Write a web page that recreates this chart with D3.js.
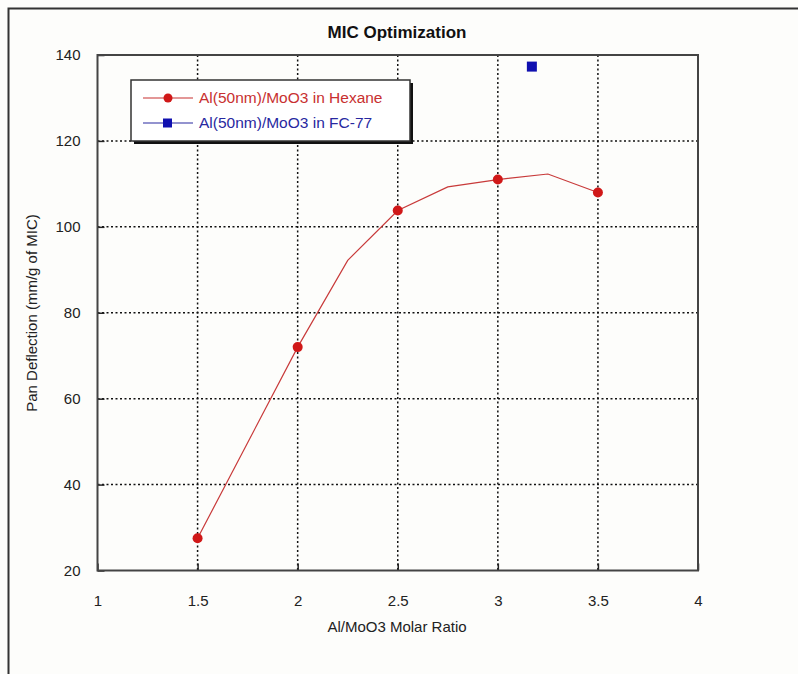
<!DOCTYPE html>
<html>
<head>
<meta charset="utf-8">
<script src="https://cdn.jsdelivr.net/npm/d3@7"></script>
<style>
  body { margin: 0; background: #fdfdfb; }
  text { font-family: "Liberation Sans", Arial, sans-serif; fill: #222; }
  .grid line { stroke: #111; stroke-dasharray: 2,2.5; stroke-width: 1.5; }
</style>
</head>
<body>
<div id="chart"></div>
<script>
// data
var hexX = [1.5, 2, 2.25, 2.5, 2.75, 3, 3.25, 3.5];
var hexY = [27.5, 72, 92.2, 103.8, 109.3, 111, 112.3, 108];
var hexMarked = [true, true, false, true, false, true, false, true];
var fcX = [3.17];
var fcY = [137.3];
var xTicks = [1, 1.5, 2, 2.5, 3, 3.5, 4];
var yTicks = [20, 40, 60, 80, 100, 120, 140];
var seriesNames = ["Al(50nm)/MoO3 in Hexane", "Al(50nm)/MoO3 in FC-77"];

var W = 798, H = 674;
var svg = d3.select("#chart").append("svg").attr("width", W).attr("height", H);

// outer frame (top + left edges only visible)
svg.append("path").attr("d", "M8.5," + H + " V8.5 H" + W)
  .attr("fill", "none").attr("stroke", "#333").attr("stroke-width", 2);

var x = d3.scaleLinear().domain([1, 4]).range([97.5, 698]);
var y = d3.scaleLinear().domain([20, 140]).range([570.5, 55]);

// grid
var grid = svg.append("g").attr("class", "grid");
grid.selectAll(".vx").data(xTicks.slice(1, -1)).enter().append("line")
  .attr("x1", d => x(d)).attr("x2", d => x(d)).attr("y1", y(140)).attr("y2", y(20));
grid.selectAll(".hy").data(yTicks.slice(1, -1)).enter().append("line")
  .attr("y1", d => y(d)).attr("y2", d => y(d)).attr("x1", x(1)).attr("x2", x(4));

// axes with inward ticks
var xAxis = svg.append("g").attr("transform", "translate(0," + y(20) + ")")
  .call(d3.axisBottom(x).tickValues(xTicks).tickSize(-7).tickPadding(25).tickFormat(d3.format("")));
var yAxis = svg.append("g").attr("transform", "translate(" + x(1) + ",0)")
  .call(d3.axisLeft(y).tickValues(yTicks).tickSize(-7).tickPadding(17));
[xAxis, yAxis].forEach(function(g){
  g.select(".domain").remove();
  g.selectAll("line").attr("stroke", "#222").attr("stroke-width", 1.5);
  g.selectAll("text").style("font-size", "15px").attr("fill", "#222");
});

// plot box
svg.append("rect").attr("x", x(1)).attr("y", y(140))
  .attr("width", x(4) - x(1)).attr("height", y(20) - y(140))
  .attr("fill", "none").attr("stroke", "#444").attr("stroke-width", 2);

// hexane series
var hex = hexX.map((d, i) => ({x: d, y: hexY[i], m: hexMarked[i]}));
svg.append("path").datum(hex)
  .attr("d", d3.line().x(d => x(d.x)).y(d => y(d.y)))
  .attr("fill", "none").attr("stroke", "#c83a3a").attr("stroke-width", 1.2);
svg.selectAll(".hexpt").data(hex.filter(d => d.m)).enter().append("circle")
  .attr("cx", d => x(d.x)).attr("cy", d => y(d.y)).attr("r", 5)
  .attr("fill", "#d01818");

// FC-77 series
svg.selectAll(".fcpt").data(fcX).enter().append("rect")
  .attr("x", (d, i) => x(d) - 5).attr("y", (d, i) => y(fcY[i]) - 5)
  .attr("width", 10).attr("height", 10).attr("fill", "#1010b0");

// legend
var lg = svg.append("g").attr("transform", "translate(131,80)");
lg.append("rect").attr("x", 3).attr("y", 3).attr("width", 279).attr("height", 61).attr("fill", "#111");
lg.append("rect").attr("width", 279).attr("height", 61).attr("fill", "#fff").attr("stroke", "#333").attr("stroke-width", 1.5);
var colors = ["#c83030", "#2828a0"];
seriesNames.forEach(function(name, i){
  var ly = 18 + i * 25;
  lg.append("line").attr("x1", 12).attr("x2", 62).attr("y1", ly).attr("y2", ly)
    .attr("stroke", colors[i]).attr("stroke-width", 1.2);
  if (i === 0) {
    lg.append("circle").attr("cx", 37).attr("cy", ly).attr("r", 4.5).attr("fill", "#d01818");
  } else {
    lg.append("rect").attr("x", 32).attr("y", ly - 4.5).attr("width", 9).attr("height", 9).attr("fill", "#1010b0");
  }
  lg.append("text").attr("x", 68).attr("y", ly + 5).text(name)
    .style("font-size", "15.5px").style("fill", colors[i]);
});

// titles
svg.append("text").attr("x", 397).attr("y", 38).attr("text-anchor", "middle")
  .style("font-size", "17px").style("font-weight", "bold").style("fill", "#111").text("MIC Optimization");
svg.append("text").attr("x", 397).attr("y", 632).attr("text-anchor", "middle")
  .style("font-size", "15px").text("Al/MoO3 Molar Ratio");
svg.append("text").attr("transform", "translate(37," + 313 + ") rotate(-90)")
  .attr("text-anchor", "middle").style("font-size", "15px").text("Pan Deflection (mm/g of MIC)");
</script>
</body>
</html>
